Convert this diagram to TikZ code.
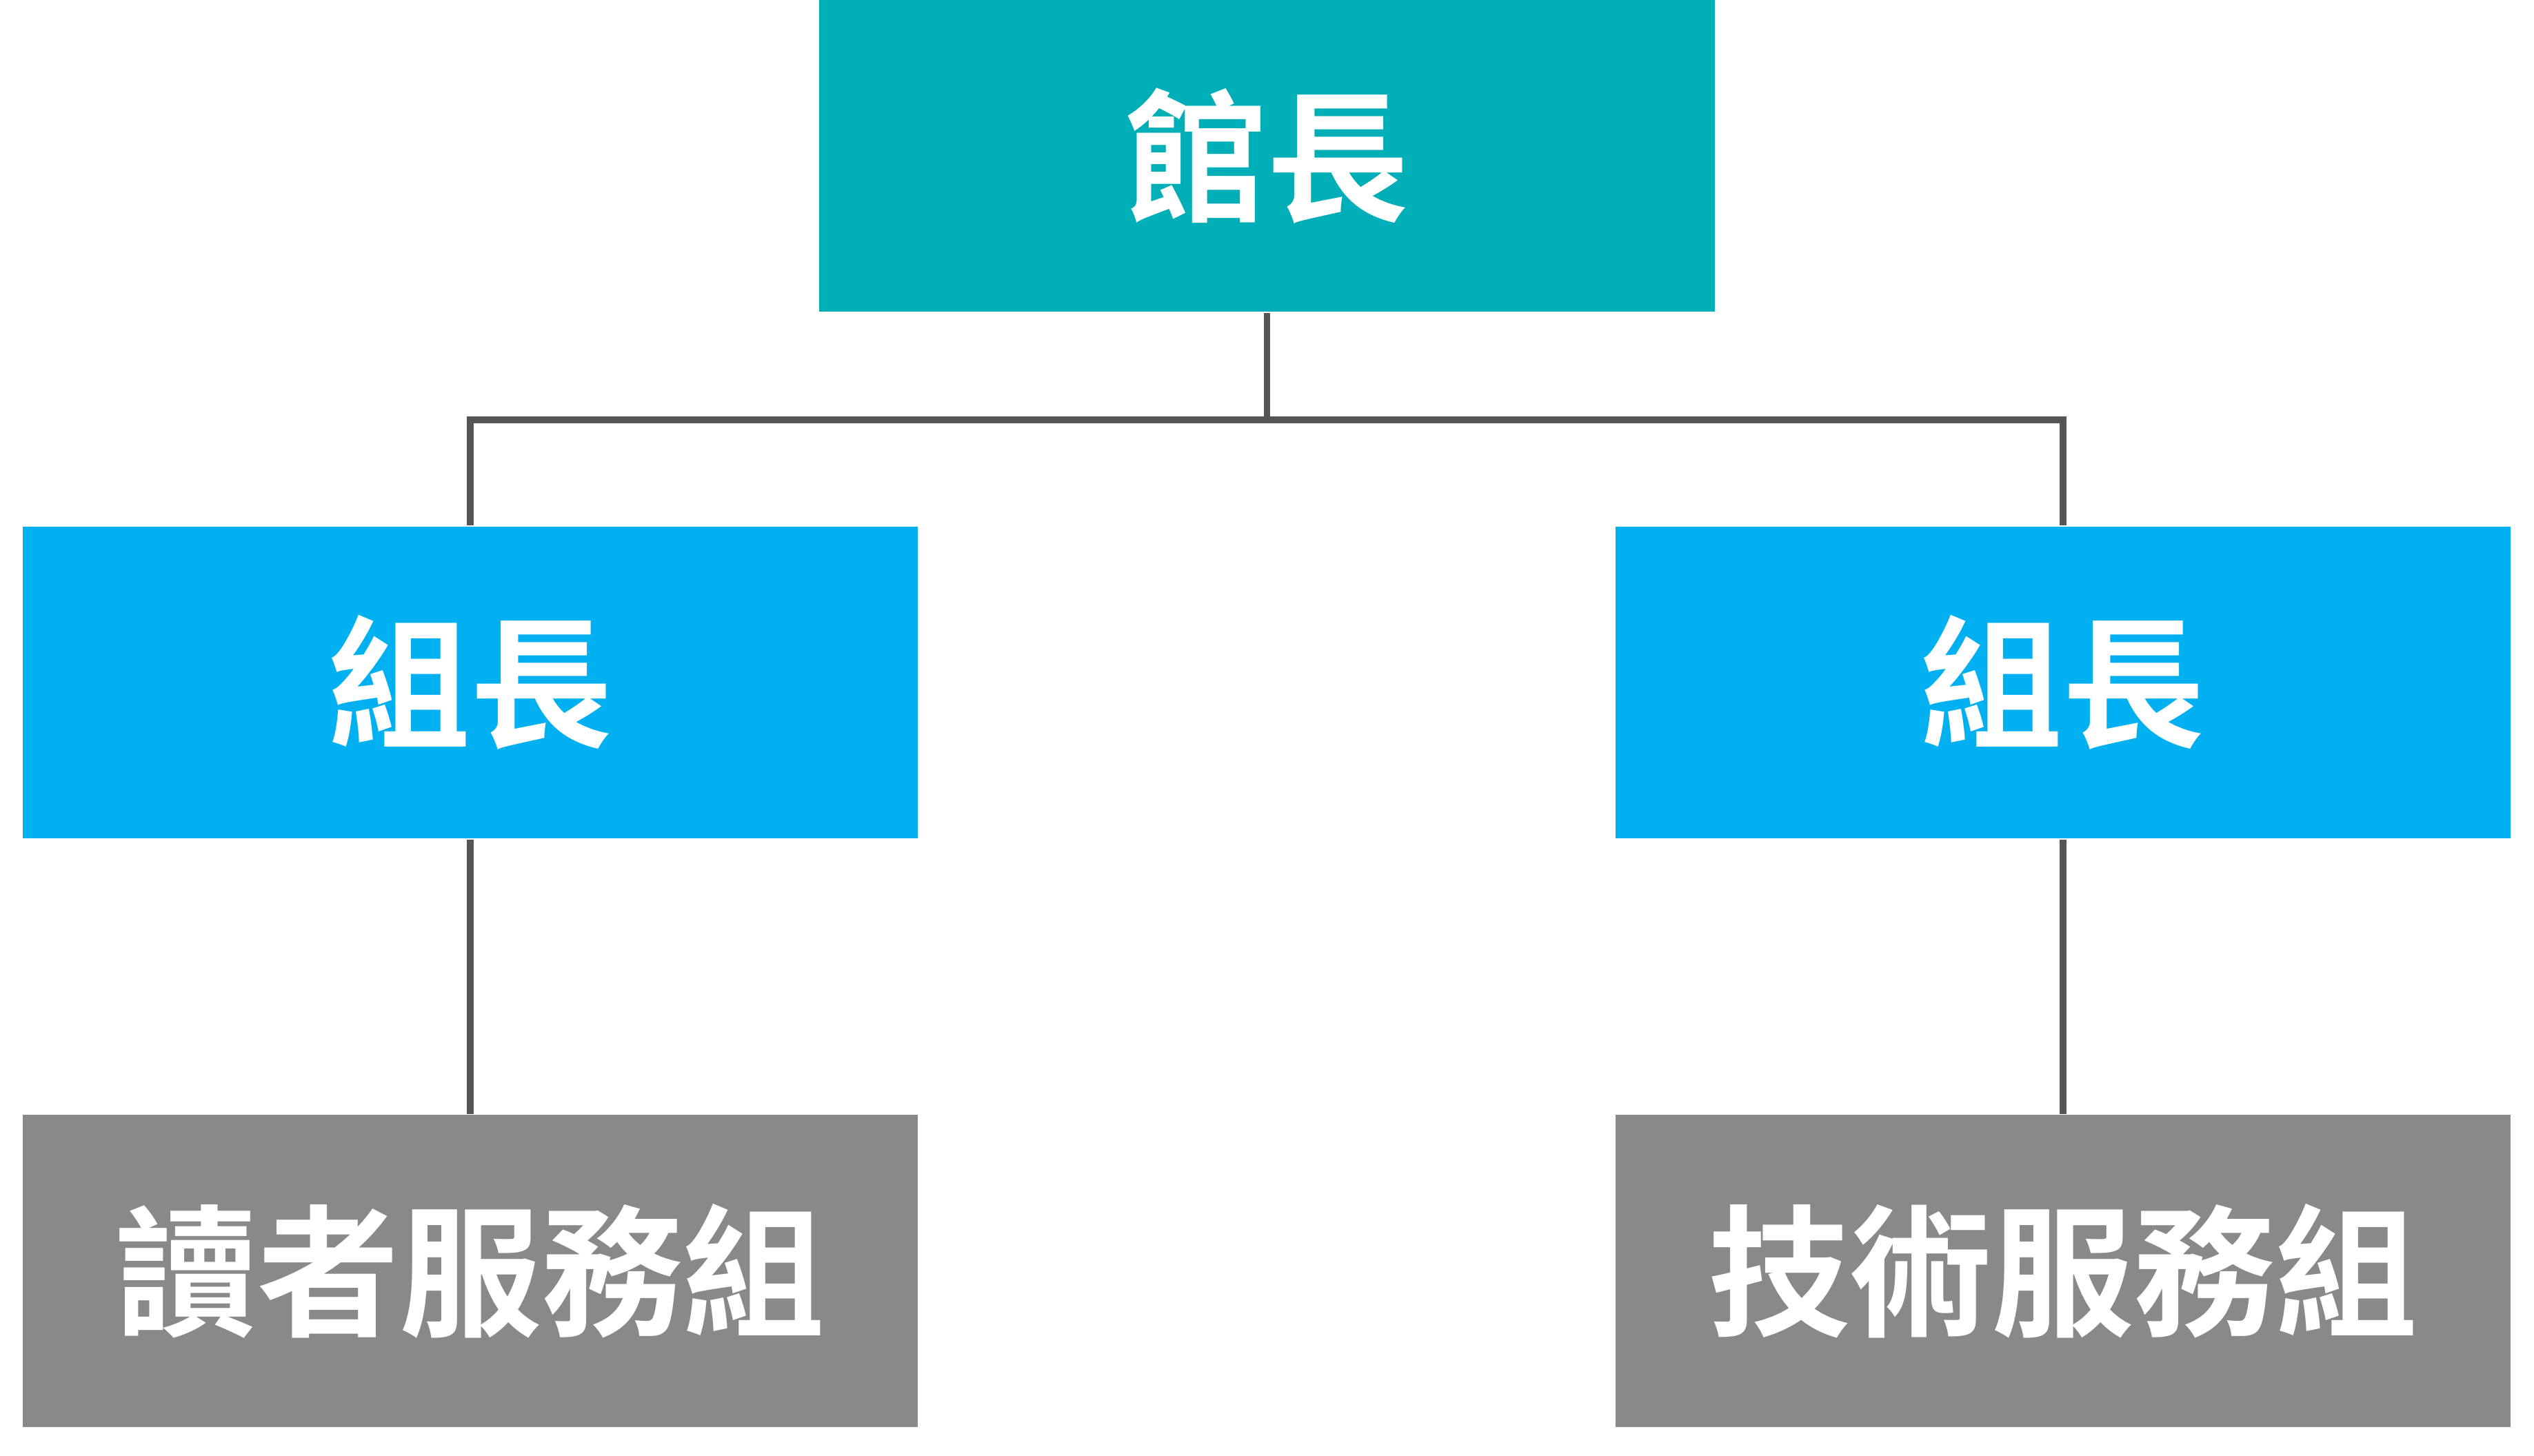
\documentclass[tikz,border=0pt]{standalone}
\usepackage{fontspec}
\newfontfamily\cjk{Noto Sans CJK TC Bold}
\usetikzlibrary{positioning}
\definecolor{headteal}{HTML}{00AEB8}
\definecolor{leadblue}{HTML}{00B0F0}
\definecolor{unitgray}{HTML}{898989}
\definecolor{linkgray}{HTML}{555555}
\tikzset{
box/.style={minimum width=5.54cm, minimum height=1.93cm, inner sep=0pt, text=white, font=\cjk\fontsize{25}{30}\selectfont},
link/.style={draw=linkgray, line width=1.2pt},
}
\begin{document}
\begin{tikzpicture}
    \useasboundingbox (0,0) rectangle (15.68,-9.01);
    \node[box, fill=headteal] (head) at (7.84,-0.965) {館長};
    \node[box, fill=leadblue] (leadl) at (2.91,-4.225) {組長};
    \node[box, fill=leadblue] (leadr) at (12.765,-4.225) {組長};
    \node[box, fill=unitgray] (unitl) at (2.91,-7.865) {讀者服務組};
    \node[box, fill=unitgray] (unitr) at (12.765,-7.865) {技術服務組};
    \coordinate (split) at (7.84,-2.6);

    \draw[link] (head.south) -- (split);
    \draw[link] (split) -| (leadl.north);
    \draw[link] (split) -| (leadr.north);
    \draw[link] (leadl) -- (unitl);
    \draw[link] (leadr) -- (unitr);
\end{tikzpicture}
\end{document}
